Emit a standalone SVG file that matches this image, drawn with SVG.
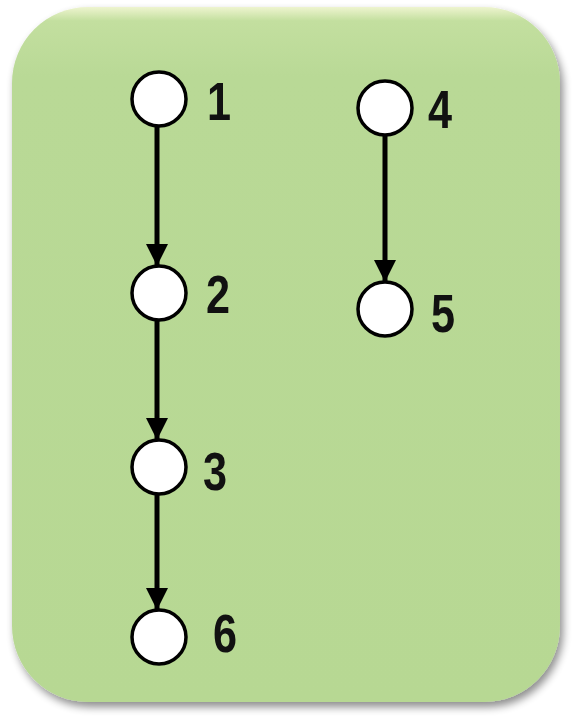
<svg xmlns="http://www.w3.org/2000/svg" width="573" height="720" viewBox="0 0 573 720">
<style>
.node{fill:#fff;stroke:#000;stroke-width:3.5}
.lbl{font-family:"Liberation Sans",Arial,sans-serif;font-weight:bold;font-size:54px;fill:#111}
.edge{stroke:#000;stroke-width:5;fill:none;marker-end:url(#ah)}
</style>
<defs>
<marker id="ah" markerWidth="22" markerHeight="22" viewBox="0 0 22 22" refX="21" refY="11" orient="auto" markerUnits="userSpaceOnUse">
<path d="M0,0 L22,11 L0,22 Z" fill="#000"/>
</marker>
<linearGradient id="bg" x1="0" y1="0" x2="0" y2="1">
<stop offset="0" stop-color="#eef4cf"/>
<stop offset="0.02" stop-color="#c3df9f"/>
<stop offset="0.1" stop-color="#b9d996"/>
<stop offset="1" stop-color="#b7d893"/>
</linearGradient>
<filter id="sh" x="-10%" y="-10%" width="120%" height="120%">
<feGaussianBlur in="SourceAlpha" stdDeviation="4"/>
<feOffset dx="3" dy="5" result="b"/>
<feComponentTransfer><feFuncA type="linear" slope="0.45"/></feComponentTransfer>
<feMerge><feMergeNode/><feMergeNode in="SourceGraphic"/></feMerge>
</filter>
</defs>
<g id="frame">
<rect x="12" y="7" width="548" height="695" rx="76" ry="76" fill="url(#bg)" filter="url(#sh)"/>
</g>
<g id="connectors">
<line class="edge" x1="157" y1="127" x2="157" y2="265"/>
<line class="edge" x1="157" y1="321" x2="157" y2="439"/>
<line class="edge" x1="157" y1="495" x2="157" y2="609"/>
<line class="edge" x1="385" y1="136" x2="385" y2="281"/>
</g>
<g id="n1"><circle class="node" cx="159" cy="99" r="27"/><text class="lbl" transform="translate(207 120) scale(0.8 1)">1</text></g>
<g id="n2"><circle class="node" cx="159" cy="293" r="27"/><text class="lbl" transform="translate(206 313) scale(0.8 1)">2</text></g>
<g id="n3"><circle class="node" cx="159" cy="467" r="27"/><text class="lbl" transform="translate(203 490) scale(0.8 1)">3</text></g>
<g id="n6"><circle class="node" cx="159" cy="637" r="27"/><text class="lbl" transform="translate(213 652) scale(0.8 1)">6</text></g>
<g id="n4"><circle class="node" cx="385" cy="108" r="27"/><text class="lbl" transform="translate(428 128) scale(0.8 1)">4</text></g>
<g id="n5"><circle class="node" cx="385" cy="309" r="27"/><text class="lbl" transform="translate(431 332) scale(0.8 1)">5</text></g>
</svg>
